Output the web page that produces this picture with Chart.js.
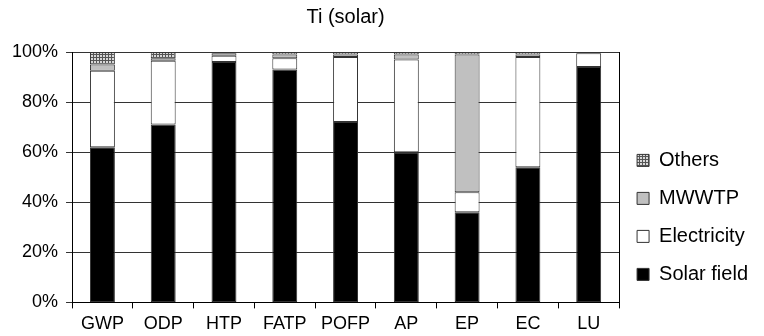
<!DOCTYPE html>
<html>
<head>
<meta charset="utf-8">
<script src="https://cdn.jsdelivr.net/npm/chart.js@4/dist/chart.umd.min.js"></script>
<style>
    html, body { margin: 0; padding: 0; background: #fff; }
    #wrap { width: 764px; height: 336px; }
</style>
</head>
<body>
<div id="wrap"><canvas id="chart"></canvas></div>
<script>
const categories = ['GWP', 'ODP', 'HTP', 'FATP', 'POFP', 'AP', 'EP', 'EC', 'LU'];
const solarField = [62, 71, 96, 93, 72, 60, 36, 54, 94];
const electricity = [30.5, 25.5, 2.5, 4.5, 26, 37, 8, 44, 5.5];
const mwwtp = [2.5, 1, 1, 1.5, 1, 2, 55, 1, 0.3];
const others = [5, 2.5, 0.5, 1, 1, 1, 1, 1, 0.2];
const yTicks = [0, 20, 40, 60, 80, 100];

const makeGridPattern = () => {
    const c = document.createElement('canvas');
    c.width = 3;
    c.height = 3;
    const g = c.getContext('2d');
    g.fillStyle = '#d8d8d8';
    g.fillRect(0, 0, 3, 3);
    g.fillStyle = '#555555';
    g.fillRect(0, 0, 3, 1);
    g.fillRect(0, 0, 1, 3);
    return g.createPattern(c, 'repeat');
};

const othersFill = makeGridPattern();
const family = '"Liberation Sans", Arial, sans-serif';
const tickFont = { family: family, size: 18 };

// right edge of the plot frame
const frameRight = {
    id: 'frameRight',
    afterDraw: (chart) => {
        const { ctx, chartArea } = chart;
        const x = Math.round(chartArea.right) + 0.5;
        ctx.save();
        ctx.strokeStyle = '#000';
        ctx.lineWidth = 1;
        ctx.beginPath();
        ctx.moveTo(x, chartArea.top);
        ctx.lineTo(x, chartArea.bottom);
        ctx.stroke();
        ctx.restore();
    },
};

const seg = (label, data, fill) => ({
    label: label,
    data: data,
    backgroundColor: fill,
    borderColor: '#333333',
    borderWidth: 1,
    borderSkipped: false,
    barPercentage: 0.41,
    categoryPercentage: 1,
});

new Chart(document.getElementById('chart'), {
    type: 'bar',
    data: {
        labels: categories,
        datasets: [
            seg('Solar field', solarField, '#000000'),
            seg('Electricity', electricity, '#ffffff'),
            seg('MWWTP', mwwtp, '#c0c0c0'),
            seg('Others', others, othersFill),
        ],
    },
    plugins: [frameRight],
    options: {
        responsive: true,
        maintainAspectRatio: false,
        animation: false,
        layout: {
            padding: { top: 0, left: 4, right: 6, bottom: -4 },
        },
        plugins: {
            title: {
                display: true,
                text: 'Ti (solar)',
                color: '#000',
                fullSize: false,
                font: { family: family, size: 20, weight: 'normal' },
                padding: { top: 5, bottom: 23 },
            },
            legend: {
                position: 'right',
                align: 'end',
                fullSize: false,
                reverse: true,
                labels: {
                    color: '#000',
                    font: { family: family, size: 20 },
                    boxWidth: 12,
                    boxHeight: 12,
                    padding: 18,
                },
            },
            tooltip: { enabled: false },
        },
        scales: {
            x: {
                stacked: true,
                grid: {
                    drawOnChartArea: false,
                    color: '#000',
                    tickLength: 6,
                    offset: true,
                },
                border: { color: '#000' },
                ticks: { color: '#000', font: tickFont, padding: 5, maxRotation: 0 },
            },
            y: {
                stacked: true,
                min: 0,
                max: 100,
                afterBuildTicks: (axis) => {
                    axis.ticks = yTicks.map((v) => ({ value: v }));
                },
                grid: { color: '#333333', tickLength: 6 },
                border: { color: '#000' },
                ticks: {
                    color: '#000',
                    font: tickFont,
                    padding: 8,
                    callback: (value) => value + '%',
                },
            },
        },
    },
});
</script>
</body>
</html>
